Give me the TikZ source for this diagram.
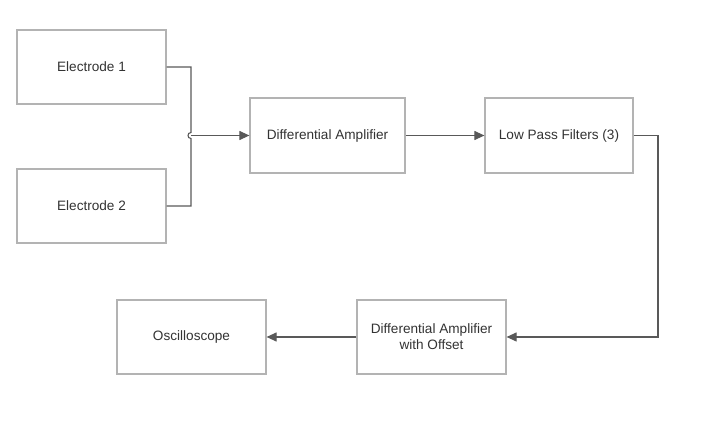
\documentclass[tikz,border=0pt]{standalone}
\usepackage{fontspec}
\setmainfont{Liberation Sans}
\usetikzlibrary{arrows.meta}
\definecolor{boxline}{HTML}{B3B3B3}
\definecolor{wire}{HTML}{595959}
\definecolor{txt}{HTML}{333333}
\begin{document}
\begin{tikzpicture}[x=1pt,y=-1pt,
  blk/.style={draw=boxline,line width=1.2pt,fill=white,minimum width=149pt,minimum height=74pt,
    inner sep=0pt,align=center,text=txt,font=\fontsize{13.6}{16}\selectfont},
  wirestyle/.style={draw=wire,line width=1.1pt},
  arr/.style={wirestyle,-{Triangle[length=10pt,width=9pt]}}]
\useasboundingbox (0,0) rectangle (710,430);
\node[blk] (e1) at (91.5,67) {Electrode 1};
\node[blk] (e2) at (91.5,206) {Electrode 2};
\node[blk,minimum width=155pt,minimum height=75pt] (da) at (327.5,135.5) {Differential Amplifier};
\node[blk,minimum width=148pt,minimum height=75pt] (lp) at (559,135.5) {Low Pass Filters (3)};
\node[blk] (osc) at (191.5,337) {Oscilloscope};
\node[blk] (dao) at (431.5,337) {Differential Amplifier\\with Offset};
\coordinate (j1) at (191,67);
\coordinate (j2) at (191,206);
\coordinate (jm) at (191,135.5);
\coordinate (r1) at (658,135.5);
\coordinate (r2) at (658,337);
\draw[wirestyle] (e1.east) -- (j1) -- (191,132.5) .. controls (187,132.5) and (187,138.5) .. (191,138.5) -- (j2) -- (e2.east);
\draw[arr] (jm) -- (da.west);
\draw[arr] (da.east) -- (lp.west);
\draw[arr] (lp.east) -- (r1) -- (r2) -- (dao.east);
\draw[arr] (dao.west) -- (osc.east);
\end{tikzpicture}
\end{document}
